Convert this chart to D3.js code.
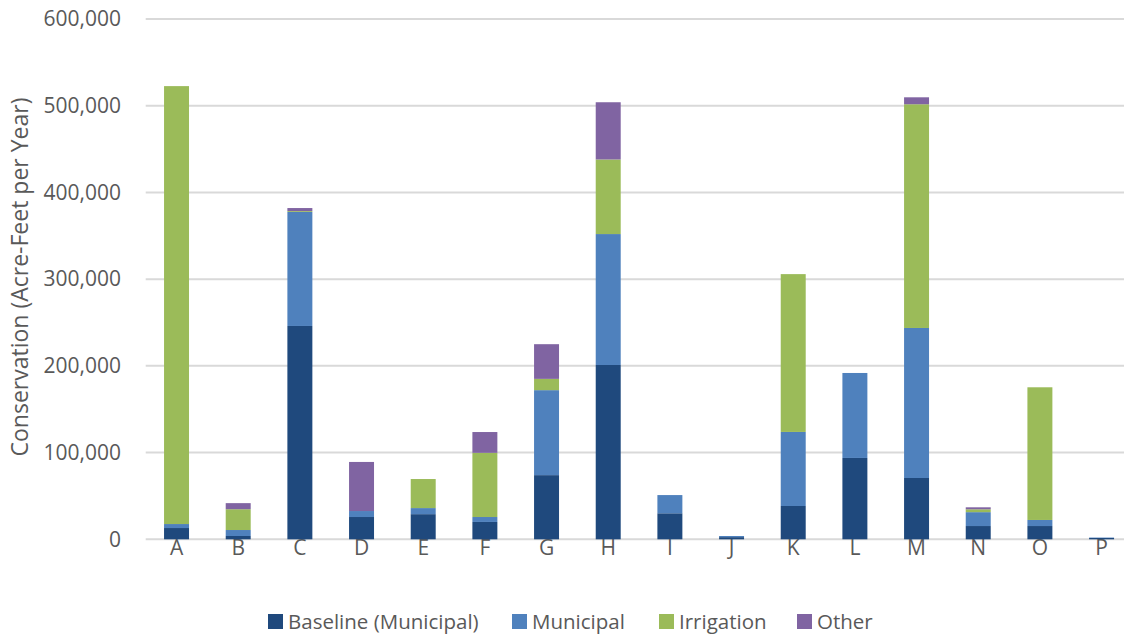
<!DOCTYPE html>
<html>
<head>
<meta charset="utf-8">
<script src="https://cdn.jsdelivr.net/npm/d3@7"></script>
<style>
  html, body { margin: 0; padding: 0; background: #fff; }
  svg { display: block; }
  text { font-family: "Open Sans", sans-serif; fill: #595959; }
</style>
</head>
<body>
<svg id="chart" width="1124" height="635"></svg>
<script>
const categories = ["A","B","C","D","E","F","G","H","I","J","K","L","M","N","O","P"];
const baseline   = [13000, 3800, 246000, 25700, 29000, 20000, 74000, 201000, 30000, 2500, 38400, 93800, 70700, 15300, 15300, 1500];
const municipal  = [4600, 6900, 131500, 6900, 7000, 5700, 98000, 151000, 21000, 1300, 85400, 98000, 173000, 16000, 7000, 500];
const irrigation = [505000, 24000, 1000, 0, 33500, 74000, 13000, 86000, 0, 0, 182000, 0, 258000, 3300, 153000, 0];
const other      = [0, 7000, 3500, 56600, 0, 24000, 40000, 66000, 0, 0, 0, 0, 8000, 2300, 0, 0];
const seriesNames = ["Baseline (Municipal)", "Municipal", "Irrigation", "Other"];
const seriesKeys = ["baseline", "municipal", "irrigation", "other"];
const colors = ["#1F497D", "#4F81BD", "#9BBB59", "#8064A2"];
const yTicks = [0, 100000, 200000, 300000, 400000, 500000, 600000];
const yTitle = "Conservation (Acre-Feet per Year)";

const rows = categories.map((c, i) => ({
  cat: c, baseline: baseline[i], municipal: municipal[i], irrigation: irrigation[i], other: other[i]
}));

const svg = d3.select("#chart");
const plotL = 145.7, plotR = 1132.4, plotT = 19, plotB = 539.3;

const x = d3.scaleBand().domain(categories).range([plotL, plotR]).paddingInner(0.595).paddingOuter(0.2975);
const y = d3.scaleLinear().domain([0, 600000]).range([plotB, plotT]);

// gridlines
svg.append("g").selectAll("line").data(yTicks).join("line")
  .attr("x1", plotL).attr("x2", 1124)
  .attr("y1", d => y(d)).attr("y2", d => y(d))
  .attr("stroke", "#d9d9d9").attr("stroke-width", 2);

// y axis labels
const yAxis = d3.axisLeft(y).tickValues(yTicks).tickFormat(d3.format(",")).tickSize(0).tickPadding(0);
const gy = svg.append("g").attr("transform", `translate(${121},0)`).call(yAxis);
gy.select(".domain").remove();
gy.selectAll("text").style("font-size", "21px").style("font-family", "'Open Sans', sans-serif").attr("fill", "#595959");

// x axis labels
const xAxis = d3.axisBottom(x).tickSize(0).tickPadding(0);
const gx = svg.append("g").attr("transform", `translate(0,${540})`).call(xAxis);
gx.select(".domain").remove();
gx.selectAll("text").style("font-size", "21px").style("font-family", "'Open Sans', sans-serif").attr("fill", "#595959");

// stacked bars
const stack = d3.stack().keys(seriesKeys);
const stacked = stack(rows);
svg.append("g").selectAll("g").data(stacked).join("g")
  .attr("fill", (d, i) => colors[i])
  .selectAll("rect").data(d => d).join("rect")
  .attr("x", d => x(d.data.cat))
  .attr("width", x.bandwidth())
  .attr("y", d => y(d[1]))
  .attr("height", d => Math.max(0, y(d[0]) - y(d[1])));

// y title
svg.append("text")
  .attr("transform", `translate(28,${277}) rotate(-90)`)
  .attr("text-anchor", "middle")
  .style("font-size", "23px")
  .text(yTitle);

// legend
const legendX = [268, 512, 659, 797];
const lg = svg.append("g").selectAll("g").data(seriesNames).join("g")
  .attr("transform", (d, i) => `translate(${legendX[i]},${614})`);
lg.append("rect").attr("width", 15).attr("height", 15).attr("fill", (d, i) => colors[i]);
lg.append("text").attr("x", 20).attr("y", 15).style("font-size", "20.5px").text(d => d);
</script>
</body>
</html>
